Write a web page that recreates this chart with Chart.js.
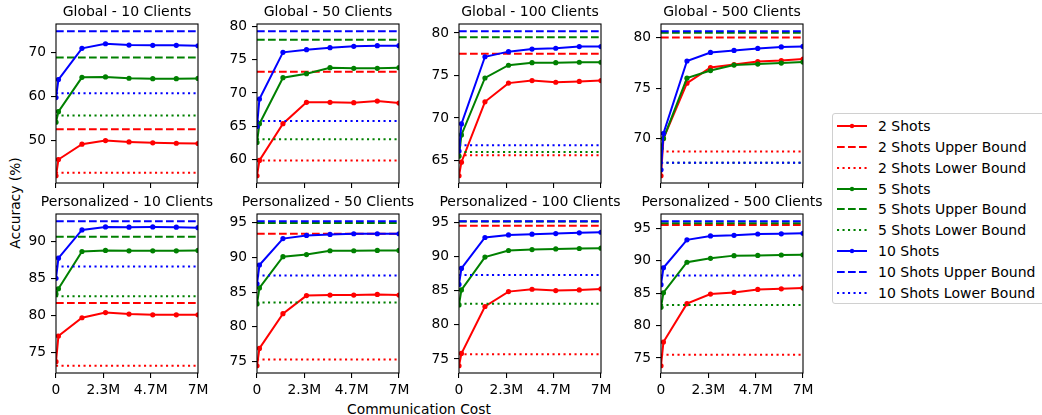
<!DOCTYPE html>
<html>
<head>
<meta charset="utf-8">
<script src="https://cdn.jsdelivr.net/npm/chart.js@4.4.0/dist/chart.umd.min.js"></script>
<style>
  body { margin:0; width:1042px; height:415px; position:relative; overflow:hidden; background:#fff;
         font-family:'DejaVu Sans', sans-serif; color:#000; }
  canvas.panel { position:absolute; }
  .figlabel { position:absolute; font-size:13.8px; white-space:nowrap; }
  #ylab { left:15px; top:203px; transform:translate(-50%,-50%) rotate(-90deg); }
  #xlab { left:419px; top:409px; transform:translate(-50%,-50%); }
  #legend { position:absolute; left:832px; top:113px; width:220px; height:191px; box-sizing:border-box;
            border:1px solid #d0d0d0; border-radius:3px; background:rgba(255,255,255,.8); }
  .lrow { position:absolute; left:4px; height:20px; display:flex; align-items:center; font-size:14px; }
  .lrow svg { width:30px; height:10px; margin-right:11px; }
</style>
</head>
<body>
<div id="ylab" class="figlabel">Accuracy (%)</div>
<div id="xlab" class="figlabel">Communication Cost</div>
<div id="legend"></div>

<script>
// communication cost of each evaluation point, in millions
const X_COST = [0, 0.12, 1.28, 2.44, 3.6, 4.77, 5.93, 7.0];
const X_TICKS = [0, 7/3, 14/3, 7];
const X_TICK_LABELS = ['0', '2.3M', '4.7M', '7M'];

const SHOTS = ['2 Shots', '5 Shots', '10 Shots'];
const COLORS = ['#ff0000', '#008000', '#0000ff'];

// Global - 10 Clients
const G10_S2  = [41.9, 45.6, 49.1, 49.9, 49.6, 49.4, 49.3, 49.25];
const G10_S5  = [54.1, 56.5, 64.3, 64.4, 64.1, 64.0, 64.0, 64.05];
const G10_S10 = [59.7, 63.8, 70.9, 71.95, 71.65, 71.6, 71.6, 71.5];
const G10_UPPER = [52.5, 68.8, 74.8];
const G10_LOWER = [42.6, 55.6, 60.7];
const G10_YTICKS = [50, 60, 70];

// Global - 50 Clients
const G50_S2  = [57.6, 59.9, 65.4, 68.6, 68.6, 68.55, 68.8, 68.5];
const G50_S5  = [62.6, 65.4, 72.3, 72.9, 73.8, 73.7, 73.7, 73.8];
const G50_S10 = [65.0, 69.1, 76.1, 76.5, 76.8, 77.0, 77.1, 77.1];
const G50_UPPER = [73.2, 78.0, 79.26];
const G50_LOWER = [59.9, 63.07, 65.8];
const G50_YTICKS = [60, 65, 70, 75, 80];

// Global - 100 Clients
const G100_S2  = [63.2, 64.8, 71.9, 74.1, 74.4, 74.2, 74.3, 74.4];
const G100_S5  = [65.5, 68.0, 74.7, 76.2, 76.5, 76.5, 76.55, 76.55];
const G100_S10 = [66.1, 69.3, 77.2, 77.8, 78.1, 78.2, 78.4, 78.4];
const G100_UPPER = [77.56, 79.5, 80.2];
const G100_LOWER = [65.6, 66.0, 66.8];
const G100_YTICKS = [65, 70, 75, 80];

// Global - 500 Clients
const G500_S2  = [66.3, 70.0, 75.5, 77.05, 77.35, 77.65, 77.75, 77.9];
const G500_S5  = [69.0, 70.0, 76.0, 76.75, 77.3, 77.4, 77.5, 77.6];
const G500_S10 = [66.9, 70.5, 77.7, 78.55, 78.75, 78.95, 79.1, 79.15];
const G500_UPPER = [80.03, 80.5, 80.66];
const G500_LOWER = [68.7, 67.6, 67.6];
const G500_YTICKS = [70, 75, 80];

// Personalized - 10 Clients
const P10_S2  = [73.8, 77.25, 79.7, 80.4, 80.2, 80.1, 80.1, 80.1];
const P10_S5  = [82.9, 83.6, 88.6, 88.75, 88.7, 88.7, 88.7, 88.75];
const P10_S10 = [85.0, 87.7, 91.5, 91.9, 91.87, 91.9, 91.87, 91.8];
const P10_UPPER = [81.7, 90.6, 92.67];
const P10_LOWER = [73.25, 82.6, 86.6];
const P10_YTICKS = [75, 80, 85, 90];

// Personalized - 50 Clients
const P50_S2  = [74.4, 76.9, 81.9, 84.5, 84.57, 84.57, 84.67, 84.57];
const P50_S5  = [83.3, 85.6, 90.1, 90.4, 90.95, 90.95, 91.0, 91.0];
const P50_S10 = [86.2, 88.9, 92.7, 93.15, 93.3, 93.4, 93.4, 93.4];
const P50_UPPER = [93.4, 94.95, 95.2];
const P50_LOWER = [75.3, 83.5, 87.4];
const P50_YTICKS = [75, 80, 85, 90, 95];

// Personalized - 100 Clients
const P100_S2  = [74.0, 75.8, 82.67, 84.85, 85.2, 85.0, 85.1, 85.25];
const P100_S5  = [82.9, 85.1, 89.9, 90.87, 91.0, 91.1, 91.16, 91.2];
const P100_S10 = [85.9, 88.25, 92.77, 93.15, 93.25, 93.35, 93.45, 93.54];
const P100_UPPER = [94.47, 95.1, 95.15];
const P100_LOWER = [75.7, 83.06, 87.3];
const P100_YTICKS = [75, 80, 85, 90, 95];

// Personalized - 500 Clients
const P500_S2  = [73.8, 77.45, 83.37, 84.85, 85.1, 85.56, 85.66, 85.77];
const P500_S5  = [82.8, 85.05, 89.75, 90.36, 90.77, 90.8, 90.87, 90.9];
const P500_S10 = [86.3, 88.9, 93.2, 93.8, 93.9, 94.1, 94.13, 94.2];
const P500_UPPER = [95.5, 95.77, 96.07];
const P500_LOWER = [75.5, 83.16, 87.7];
const P500_YTICKS = [75, 80, 85, 90, 95];

const PANELS = [
  { title:'Global - 10 Clients',        series:[G10_S2, G10_S5, G10_S10],     upper:G10_UPPER,  lower:G10_LOWER,  yticks:G10_YTICKS },
  { title:'Global - 50 Clients',        series:[G50_S2, G50_S5, G50_S10],     upper:G50_UPPER,  lower:G50_LOWER,  yticks:G50_YTICKS },
  { title:'Global - 100 Clients',       series:[G100_S2, G100_S5, G100_S10],  upper:G100_UPPER, lower:G100_LOWER, yticks:G100_YTICKS },
  { title:'Global - 500 Clients',       series:[G500_S2, G500_S5, G500_S10],  upper:G500_UPPER, lower:G500_LOWER, yticks:G500_YTICKS },
  { title:'Personalized - 10 Clients',  series:[P10_S2, P10_S5, P10_S10],     upper:P10_UPPER,  lower:P10_LOWER,  yticks:P10_YTICKS },
  { title:'Personalized - 50 Clients',  series:[P50_S2, P50_S5, P50_S10],     upper:P50_UPPER,  lower:P50_LOWER,  yticks:P50_YTICKS },
  { title:'Personalized - 100 Clients', series:[P100_S2, P100_S5, P100_S10],  upper:P100_UPPER, lower:P100_LOWER, yticks:P100_YTICKS },
  { title:'Personalized - 500 Clients', series:[P500_S2, P500_S5, P500_S10],  upper:P500_UPPER, lower:P500_LOWER, yticks:P500_YTICKS },
];

// layout of the plot areas (px)
const COL_LEFT = [56, 257, 459, 661];
const ROW_TOP = [24, 214];
const PW = 142.5, PH = 159;
const PAD_L = 55, PAD_T = 25, PAD_R = 22, PAD_B = 30;

const DASH = [7.7, 3.3], DOT = [2.1, 3.4];
const FONT = "'DejaVu Sans', sans-serif";

const framePlugin = {
  id: 'frame',
  afterDatasetsDraw(chart, args, opts) {
    const { ctx, chartArea: a } = chart;
    ctx.save();
    ctx.strokeStyle = '#000'; ctx.lineWidth = 1.1;
    ctx.strokeRect(a.left, a.top, a.right - a.left, a.bottom - a.top);
    ctx.fillStyle = '#000';
    ctx.font = '14px ' + FONT;
    ctx.textAlign = 'center'; ctx.textBaseline = 'alphabetic';
    ctx.fillText(opts.text, (a.left + a.right) / 2, a.top - 8);
    ctx.restore();
  }
};

PANELS.forEach((p, k) => {
  const row = Math.floor(k / 4), col = k % 4;
  const cv = document.createElement('canvas');
  cv.className = 'panel';
  const W = PAD_L + PW + PAD_R, H = PAD_T + PH + PAD_B;
  cv.width = W; cv.height = H;
  cv.style.left = (COL_LEFT[col] - PAD_L) + 'px';
  cv.style.top = (ROW_TOP[row] - PAD_T) + 'px';
  document.body.appendChild(cv);

  const all = p.series.flat().concat(p.upper, p.lower);
  const lo = Math.min(...all), hi = Math.max(...all), m = (hi - lo) * 0.05;

  const datasets = [];
  p.series.forEach((vals, s) => {
    const c = COLORS[s];
    datasets.push({ label:SHOTS[s], data:vals.map((v, i) => ({ x:X_COST[i], y:v })),
      borderColor:c, backgroundColor:c, borderWidth:2, pointRadius:2.6, pointBorderWidth:0,
      pointBackgroundColor:c, tension:0, order:100 - datasets.length });
    datasets.push({ label:SHOTS[s] + ' Upper Bound', data:[{ x:0, y:p.upper[s] }, { x:7, y:p.upper[s] }],
      borderColor:c, borderWidth:2, borderDash:DASH, pointRadius:0, order:100 - datasets.length });
    datasets.push({ label:SHOTS[s] + ' Lower Bound', data:[{ x:0, y:p.lower[s] }, { x:7, y:p.lower[s] }],
      borderColor:c, borderWidth:2, borderDash:DOT, pointRadius:0, order:100 - datasets.length });
  });

  const tickGrid = { display:true, drawOnChartArea:false, drawTicks:true, tickLength:5, color:'#000', lineWidth:1.1 };

  new Chart(cv, {
    type:'line',
    data:{ datasets },
    plugins:[framePlugin],
    options:{
      responsive:false, animation:false, events:[],
      layout:{ padding:{ left:0, top:PAD_T, right:PAD_R, bottom:0 } },
      plugins:{ legend:{ display:false }, tooltip:{ enabled:false }, frame:{ text:p.title } },
      scales:{
        x:{ type:'linear', min:0, max:7, grid:tickGrid, border:{ display:false },
            afterBuildTicks: s => { s.ticks = X_TICKS.map(v => ({ value:v })); },
            afterFit: s => { s.height = PAD_B; },
            ticks:{ padding:4, color:'#000', font:{ family:FONT, size:13.8 }, maxRotation:0, autoSkip:false,
                    callback:(v, i) => row === 1 ? X_TICK_LABELS[i] : '' } },
        y:{ type:'linear', min:lo - m, max:hi + m, grid:tickGrid, border:{ display:false },
            afterBuildTicks: s => { s.ticks = p.yticks.map(v => ({ value:v })); },
            afterFit: s => { s.width = PAD_L; },
            ticks:{ padding:5, color:'#000', font:{ family:FONT, size:13.8 }, autoSkip:false,
                    callback: v => String(v) } }
      }
    }
  });
});

// legend
const legend = document.getElementById('legend');
SHOTS.forEach((name, s) => {
  const c = COLORS[s];
  const styles = [
    { text:name, line:`<line x1="0" y1="5" x2="30" y2="5" stroke="${c}" stroke-width="2"/><circle cx="15" cy="5" r="2.2" fill="${c}"/>` },
    { text:name + ' Upper Bound', line:`<line x1="0" y1="5" x2="30" y2="5" stroke="${c}" stroke-width="2" stroke-dasharray="${DASH.join(' ')}"/>` },
    { text:name + ' Lower Bound', line:`<line x1="0" y1="5" x2="30" y2="5" stroke="${c}" stroke-width="2" stroke-dasharray="${DOT.join(' ')}"/>` },
  ];
  styles.forEach((st, j) => {
    const i = s * 3 + j;
    const el = document.createElement('div');
    el.className = 'lrow';
    el.style.top = (2 + i * 20.85) + 'px';
    el.innerHTML = `<svg viewBox="0 0 30 10">${st.line}</svg><span>${st.text}</span>`;
    legend.appendChild(el);
  });
});
</script>
</body>
</html>
